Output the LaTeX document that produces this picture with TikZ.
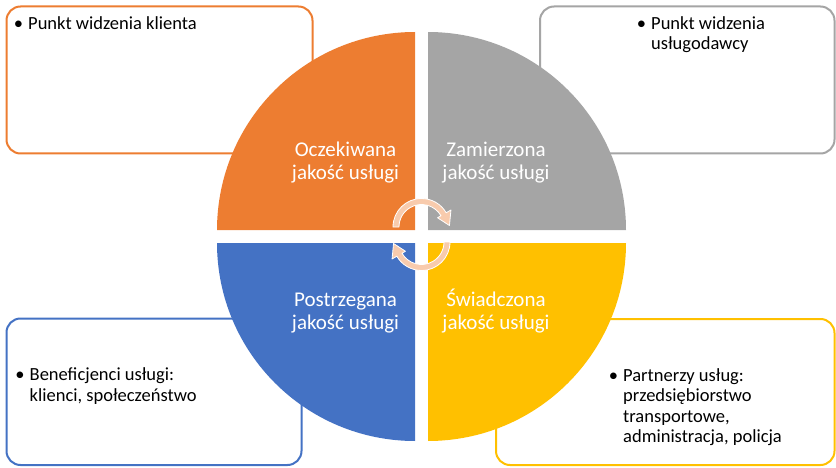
\documentclass[tikz,border=0pt]{standalone}
\usepackage{fontspec}
\setmainfont{Carlito}
\definecolor{qorange}{HTML}{ED7D31}
\definecolor{qgray}{HTML}{A5A5A5}
\definecolor{qblue}{HTML}{4472C4}
\definecolor{qyellow}{HTML}{FFC000}
\definecolor{peach}{HTML}{F8CBAD}
\begin{document}
\begin{tikzpicture}[x=1pt,y=-1pt,
  box/.style={line width=2pt, rounded corners=14pt, fill=white},
  qtext/.style={text=white, align=center, font=\fontsize{21}{23}\selectfont, inner sep=0pt, anchor=base},
  btext/.style={align=left, font=\fontsize{18.5}{20.5}\selectfont, inner sep=0pt, anchor=base west},
  cyc/.style={fill=peach, draw=white, line width=0.8pt, line join=round}]
\useasboundingbox (0,0) rectangle (836,468);
% text boxes
\draw[box, draw=qorange] (6.5,6.5) rectangle (312.5,153.5);
\draw[box, draw=qgray] (540,6.5) rectangle (834.5,153.5);
\draw[box, draw=qblue] (6.5,318.5) rectangle (301.5,465);
\draw[box, draw=qyellow] (496,319) rectangle (834.5,465);
% quadrants
\fill[qorange] (415,230) -- (217,230) arc[start angle=180,end angle=270,radius=198] -- cycle;
\fill[qgray] (428,230) -- (428,32) arc[start angle=270,end angle=360,radius=198] -- cycle;
\fill[qyellow] (428,243) -- (626,243) arc[start angle=0,end angle=90,radius=198] -- cycle;
\fill[qblue] (415,243) -- (415,441) arc[start angle=90,end angle=180,radius=198] -- cycle;
% cycle arrows
\begin{scope}[shift={(421.5,227)}]
\draw[cyc] (180:28.5) arc[start angle=180,end angle=330,radius=28.5] -- (330:34) -- (357:28) -- (330:18.5) -- (330:22.5) arc[start angle=330,end angle=180,radius=22.5] -- cycle;
\end{scope}
\begin{scope}[shift={(421.5,242)},rotate=180]
\draw[cyc] (180:28.5) arc[start angle=180,end angle=330,radius=28.5] -- (330:34) -- (357:28) -- (330:18.5) -- (330:22.5) arc[start angle=330,end angle=180,radius=22.5] -- cycle;
\end{scope}
% quadrant labels (anchor base = last line)
\node[qtext] (oczek) at (345.5,179) {Oczekiwana\\jakość usługi};
\node[qtext] (zamier) at (496,179) {Zamierzona\\jakość usługi};
\node[qtext] (postrz) at (345.5,329) {Postrzegana\\jakość usługi};
\node[qtext] (swiad) at (496,329) {Świadczona\\jakość usługi};
% box texts
\node[btext] (klient) at (28,30) {\llap{•\hspace{5pt}}Punkt widzenia klienta};
\node[btext] (uslugod) at (651,50) {\llap{•\hspace{5pt}}Punkt widzenia\\usługodawcy};
\node[btext] (benef) at (29.5,401) {\llap{•\hspace{5pt}}Beneficjenci usługi:\\klienci, społeczeństwo};
\node[btext] (partn) at (623,442.5) {\llap{•\hspace{5pt}}Partnerzy usług:\\przedsiębiorstwo\\transportowe,\\administracja, policja};
\end{tikzpicture}
\end{document}
